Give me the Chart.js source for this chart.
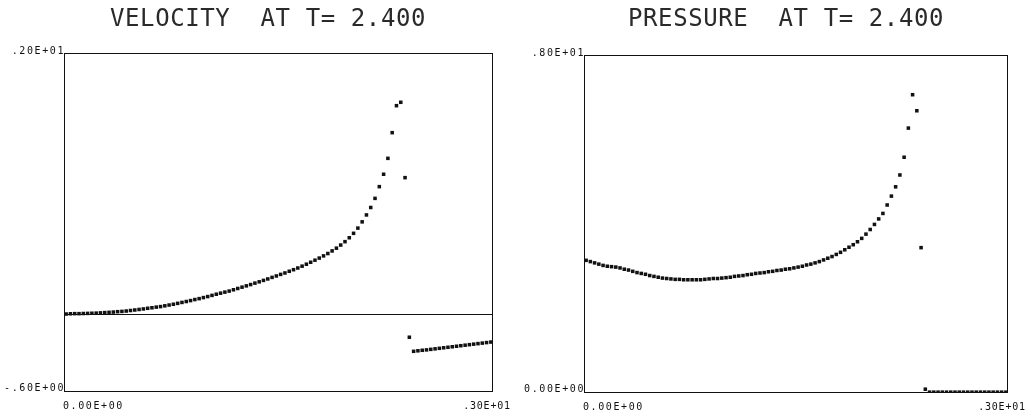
<!DOCTYPE html>
<html>
<head>
<meta charset="utf-8">
<script src="https://cdn.jsdelivr.net/npm/chart.js@4.4.1/dist/chart.umd.min.js"></script>
<style>
    html, body { margin: 0; padding: 0; background: #fff; }
    #wrap { position: relative; width: 1025px; height: 413px; overflow: hidden; }
    canvas { position: absolute; top: 0; }
    #velocity-chart { left: 0; }
    #pressure-chart { left: 512px; }
</style>
</head>
<body>
<div id="wrap">
    <canvas id="velocity-chart" width="512" height="413"></canvas>
    <canvas id="pressure-chart" width="513" height="413"></canvas>
</div>
<script>
"use strict";

// cell centres of the 100-cell mesh on [0, 3]
const meshX = [
    0.015, 0.045, 0.075, 0.105, 0.135, 0.165, 0.195, 0.225, 0.255, 0.285,
    0.315, 0.345, 0.375, 0.405, 0.435, 0.465, 0.495, 0.525, 0.555, 0.585,
    0.615, 0.645, 0.675, 0.705, 0.735, 0.765, 0.795, 0.825, 0.855, 0.885,
    0.915, 0.945, 0.975, 1.005, 1.035, 1.065, 1.095, 1.125, 1.155, 1.185,
    1.215, 1.245, 1.275, 1.305, 1.335, 1.365, 1.395, 1.425, 1.455, 1.485,
    1.515, 1.545, 1.575, 1.605, 1.635, 1.665, 1.695, 1.725, 1.755, 1.785,
    1.815, 1.845, 1.875, 1.905, 1.935, 1.965, 1.995, 2.025, 2.055, 2.085,
    2.115, 2.145, 2.175, 2.205, 2.235, 2.265, 2.295, 2.325, 2.355, 2.385,
    2.415, 2.445, 2.475, 2.505, 2.535, 2.565, 2.595, 2.625, 2.655, 2.685,
    2.715, 2.745, 2.775, 2.805, 2.835, 2.865, 2.895, 2.925, 2.955, 2.985
];

const velocity = [
    -0.002, 0.000, 0.001, 0.001, 0.002, 0.003, 0.004, 0.005, 0.007, 0.009,
    0.011, 0.013, 0.016, 0.018, 0.021, 0.025, 0.029, 0.033, 0.037, 0.042,
    0.046, 0.051, 0.055, 0.061, 0.067, 0.073, 0.080, 0.087, 0.094, 0.101,
    0.109, 0.116, 0.124, 0.132, 0.141, 0.150, 0.158, 0.166, 0.174, 0.184,
    0.194, 0.204, 0.214, 0.224, 0.235, 0.245, 0.256, 0.267, 0.279, 0.290,
    0.302, 0.313, 0.326, 0.338, 0.351, 0.365, 0.380, 0.395, 0.411, 0.427,
    0.444, 0.462, 0.482, 0.503, 0.527, 0.553, 0.583, 0.617, 0.657, 0.705,
    0.758, 0.815, 0.885, 0.975, 1.070, 1.192, 1.389, 1.596, 1.622, 1.044,
    -0.180, -0.288, -0.284, -0.280, -0.277, -0.273, -0.269, -0.265, -0.261, -0.257,
    -0.253, -0.249, -0.245, -0.241, -0.237, -0.233, -0.229, -0.225, -0.221, -0.217
];

const pressure = [
    3.14, 3.11, 3.08, 3.05, 3.02, 3.00, 2.99, 2.98, 2.96, 2.93,
    2.91, 2.88, 2.85, 2.83, 2.81, 2.78, 2.76, 2.74, 2.72, 2.71,
    2.70, 2.69, 2.69, 2.68, 2.68, 2.68, 2.68, 2.68, 2.69, 2.70,
    2.71, 2.71, 2.72, 2.73, 2.74, 2.76, 2.77, 2.78, 2.80, 2.81,
    2.83, 2.84, 2.85, 2.87, 2.88, 2.90, 2.91, 2.93, 2.94, 2.96,
    2.98, 3.00, 3.03, 3.05, 3.08, 3.11, 3.15, 3.19, 3.23, 3.28,
    3.33, 3.39, 3.45, 3.51, 3.58, 3.66, 3.76, 3.87, 3.99, 4.12,
    4.25, 4.45, 4.66, 4.88, 5.16, 5.58, 6.27, 7.06, 6.68, 3.44,
    0.09, 0.02, 0.02, 0.02, 0.02, 0.02, 0.02, 0.02, 0.02, 0.02,
    0.02, 0.02, 0.02, 0.02, 0.02, 0.02, 0.02, 0.02, 0.02, 0.02
];

const xRange = [0, 3];
const velocityRange = [-0.6, 2.0];
const pressureRange = [0, 8];

const xTickLabels = ['0.00E+00', '.30E+01'];
const velocityTickLabels = ['-.60E+00', '.20E+01'];
const pressureTickLabels = ['0.00E+00', '.80E+01'];

const INK = '#111111';

/**
 * Draws the plotter style frame, corner labels and title
 */
const plotterFrame = {
    id: 'plotterFrame',
    afterDatasetsDraw(chart, args, opts) {
        const { ctx, chartArea: a, scales } = chart;
        ctx.save();
        ctx.strokeStyle = INK;
        ctx.lineWidth = 1;
        ctx.strokeRect(a.left + 0.5, a.top + 0.5, a.width - 1, a.height - 1);

        if (opts.zeroLine) {
            const y0 = Math.round(scales.y.getPixelForValue(0)) + 0.5;
            ctx.beginPath();
            ctx.moveTo(a.left, y0);
            ctx.lineTo(a.right, y0);
            ctx.stroke();
        }

        // corner tick labels
        ctx.fillStyle = INK;
        ctx.font = '10px "DejaVu Sans Mono"';
        ctx.letterSpacing = '1.6px';
        ctx.textBaseline = 'alphabetic';
        ctx.textAlign = 'right';
        ctx.fillText(opts.yLabels[1], a.left + 1, scales.y.getPixelForValue(scales.y.max) + 1);
        ctx.fillText(opts.yLabels[0], a.left + 1, scales.y.getPixelForValue(scales.y.min) - 1);

        ctx.textBaseline = 'top';
        ctx.textAlign = 'left';
        ctx.fillText(xTickLabels[0], scales.x.getPixelForValue(scales.x.min) - 1, a.bottom + 9);
        ctx.letterSpacing = '0.8px';
        ctx.textAlign = 'center';
        ctx.fillText(xTickLabels[1], scales.x.getPixelForValue(scales.x.max) - 6, a.bottom + 9);

        // title
        ctx.fillStyle = '#2a2a2a';
        ctx.font = '24px "DejaVu Sans Mono"';
        ctx.letterSpacing = '0.6px';
        ctx.textAlign = 'left';
        ctx.textBaseline = 'alphabetic';
        ctx.fillText(opts.title, a.left + opts.titleOffset, 26);
        ctx.restore();
    }
};

function buildPoints(values) {
    return meshX.map((x, i) => ({ x: x, y: values[i] }));
}

function makeChart(id, values, yRange, cfg) {
    return new Chart(document.getElementById(id), {
        type: 'scatter',
        data: {
            datasets: [{
                data: buildPoints(values),
                pointStyle: 'rect',
                pointRadius: 2.5,
                pointBorderWidth: 0,
                pointBackgroundColor: INK,
                showLine: false
            }]
        },
        options: {
            responsive: false,
            animation: false,
            devicePixelRatio: 1,
            layout: { padding: cfg.padding },
            plugins: {
                legend: { display: false },
                tooltip: { enabled: false },
                plotterFrame: {
                    title: cfg.title,
                    titleOffset: cfg.titleOffset,
                    yLabels: cfg.yLabels,
                    zeroLine: cfg.zeroLine
                }
            },
            scales: {
                x: { type: 'linear', min: xRange[0], max: xRange[1], display: false },
                y: { type: 'linear', min: yRange[0], max: yRange[1], display: false }
            }
        },
        plugins: [plotterFrame]
    });
}

makeChart('velocity-chart', velocity, velocityRange, {
    title: 'VELOCITY  AT T= 2.400',
    titleOffset: 46,
    yLabels: velocityTickLabels,
    zeroLine: true,
    padding: { left: 64, right: 19, top: 53, bottom: 21 }
});

makeChart('pressure-chart', pressure, pressureRange, {
    title: 'PRESSURE  AT T= 2.400',
    titleOffset: 44,
    yLabels: pressureTickLabels,
    zeroLine: false,
    padding: { left: 72, right: 17, top: 55, bottom: 20 }
});
</script>
</body>
</html>
